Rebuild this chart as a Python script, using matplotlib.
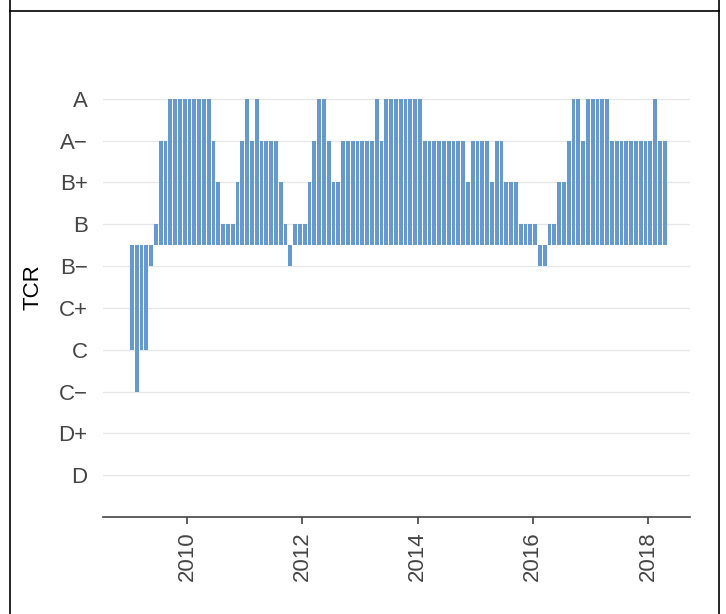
import numpy as np
import pandas as pd
import matplotlib
matplotlib.use("Agg")
import matplotlib.pyplot as plt
from matplotlib.lines import Line2D

plt.rcParams["font.family"] = ["Liberation Sans", "DejaVu Sans"]

# rating scale (bottom to top)
grades = ["D", "D+", "C\u2212", "C", "C+", "B\u2212", "B", "B+", "A\u2212", "A"]
baseline = 5.5  # bars grow from between B- and B

# monthly TCR ratings, Jan 2009 - Apr 2018
ratings = (
    ["C", "C-", "C", "C", "B-", "B", "A-", "A-", "A", "A", "A", "A"]          # 2009
    + ["A", "A", "A", "A", "A", "A-", "B+", "B", "B", "B", "B+", "A-"]      # 2010
    + ["A", "A-", "A", "A-", "A-", "A-", "A-", "B+", "B", "B-", "B", "B"]   # 2011
    + ["B", "B+", "A-", "A", "A", "A-", "B+", "B+", "A-", "A-", "A-", "A-"]  # 2012
    + ["A-", "A-", "A-", "A", "A-", "A", "A", "A", "A", "A", "A", "A"]      # 2013
    + ["A", "A-", "A-", "A-", "A-", "A-", "A-", "A-", "A-", "A-", "B+", "A-"]  # 2014
    + ["A-", "A-", "A-", "B+", "A-", "A-", "B+", "B+", "B+", "B", "B", "B"]   # 2015
    + ["B", "B-", "B-", "B", "B", "B+", "B+", "A-", "A", "A", "A-", "A"]      # 2016
    + ["A", "A", "A", "A", "A-", "A-", "A-", "A-", "A-", "A-", "A-", "A-"]   # 2017
    + ["A-", "A", "A-", "A-"]                                                 # 2018
)

months = pd.date_range("2009-01-01", periods=len(ratings), freq="MS")
xpos = months.year + (months.month - 0.5) / 12.0

keys = ["D", "D+", "C-", "C", "C+", "B-", "B", "B+", "A-", "A"]
vals = np.array([keys.index(r) for r in ratings], dtype=float)

fig = plt.figure(figsize=(7.26, 6.14), dpi=100)
ax = fig.add_axes([103 / 726, 1 - 517 / 614, 587 / 726, 460 / 614])

ax.bar(xpos, vals - baseline, bottom=baseline, width=0.8 / 12,
       color="#6699cc", linewidth=0, zorder=2)

ax.set_xlim(2008.54, 2018.73)
ax.set_ylim(-1, 10)
ax.set_yticks(range(len(grades)))
ax.set_yticklabels(grades)
ax.set_xticks([2010, 2012, 2014, 2016, 2018])
ax.set_xticklabels(["2010", "2012", "2014", "2016", "2018"], rotation=90)

ax.grid(axis="y", color="#e6e6e6", linewidth=0.9, zorder=0)
for s in ["top", "right", "left"]:
    ax.spines[s].set_visible(False)
ax.spines["bottom"].set_color("#444444")
ax.spines["bottom"].set_linewidth(1.2)
ax.tick_params(axis="y", length=0, pad=11, labelsize=16, labelcolor="#444444")
ax.tick_params(axis="x", length=5, width=1.2, color="#444444", pad=5,
               labelsize=16, labelcolor="#444444")
ax.set_ylabel("TCR", fontsize=16, labelpad=11)

# page frame around the chart
fig.add_artist(Line2D([10 / 726, 10 / 726], [0, 1], color="black", lw=1.2))
fig.add_artist(Line2D([719 / 726, 719 / 726], [0, 1], color="black", lw=1.2))
fig.add_artist(Line2D([10 / 726, 719 / 726], [1 - 10.5 / 614] * 2, color="black", lw=1.2))

fig.savefig("out.png", dpi=100)
